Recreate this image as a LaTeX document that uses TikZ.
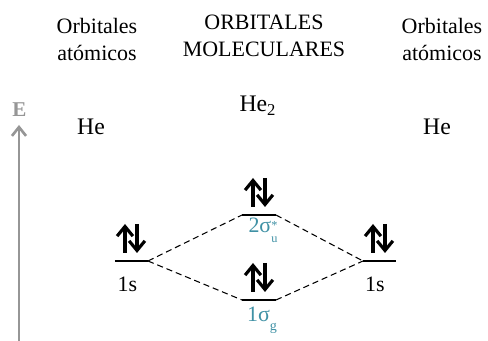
\documentclass[tikz,border=0pt]{standalone}
\usepackage{fontspec}
\setmainfont{Liberation Serif}
\usetikzlibrary{arrows.meta}
\definecolor{orbteal}{RGB}{64,145,165}
\definecolor{axisgray}{RGB}{150,150,150}

\begin{document}
\begin{tikzpicture}[x=0.02cm, y=-0.02cm,
    level/.style={line width=1.7pt},
    spin/.style={line width=1.8pt, -{Straight Barb[length=5.5pt,width=9pt]}},
    link/.style={line width=0.6pt, dash pattern=on 3.5pt off 2.2pt},
    txt/.style={font=\fontsize{12.5}{15.3}\selectfont, inner sep=0pt},
    orb/.style={txt, text=orbteal, anchor=base}]
    \useasboundingbox (0,0) rectangle (488,341);

    % Titulos
    \node[txt, align=center, anchor=north] (tl) at (97,18) {Orbitales\\atómicos};
    \node[txt, align=center, anchor=north] (tm) at (264,14.5) {ORBITALES\\MOLECULARES};
    \node[txt, align=center, anchor=north] (tr) at (442,18) {Orbitales\\atómicos};

    % Eje de energia
    \node[font=\fontsize{12}{14}\selectfont\bfseries, text=axisgray, inner sep=0pt, anchor=base] (E) at (19.5,117) {E};
    \coordinate (Ebot) at (19,341);
    \coordinate (Etop) at (19,125);
    \draw[axisgray, line width=1.5pt, -{Straight Barb[length=5pt,width=8pt]}] (Ebot) -- (Etop);

    % Atomos
    \node[txt, font=\fontsize{13.5}{16}\selectfont, anchor=base] (HeL) at (91,135) {He};
    \node[txt, font=\fontsize{13.5}{16}\selectfont, anchor=base] (He2) at (258,112) {He\textsubscript{2}};
    \node[txt, font=\fontsize{13.5}{16}\selectfont, anchor=base] (HeR) at (437,135) {He};

    % Niveles
    \coordinate (aLa) at (115,261); \coordinate (aLb) at (148,261);
    \coordinate (sSa) at (242,215); \coordinate (sSb) at (276,215);
    \coordinate (sGa) at (242,300); \coordinate (sGb) at (276,300);
    \coordinate (aRa) at (363,261); \coordinate (aRb) at (396,261);
    \draw[level] (aLa) -- (aLb);
    \draw[level] (sSa) -- (sSb);
    \draw[level] (sGa) -- (sGb);
    \draw[level] (aRa) -- (aRb);

    % Electrones
    \foreach \x/\y in {131/261, 259/215, 259/300, 379/261} {
        \draw[spin] (\x-6,\y-8) -- (\x-6,\y-37);
        \draw[spin] (\x+6,\y-37) -- (\x+6,\y-8);
    }

    % Correlaciones
    \draw[link] (aLb) -- (sSa);
    \draw[link] (aLb) -- (sGa);
    \draw[link] (sSb) -- (aRa);
    \draw[link] (sGb) -- (aRa);

    % Etiquetas
    \node[txt, anchor=base] (sL) at (127.5,292) {1s};
    \node[txt, anchor=base] (sR) at (375,292) {1s};
    \node[orb] (sS) at (263,233) {2σ\makebox[0pt][l]{\raisebox{0.15em}{\scriptsize *}}\raisebox{-0.45em}{\scriptsize u}};
    \node[orb] (sG) at (262,322) {1σ\raisebox{-0.4em}{\footnotesize g}};
\end{tikzpicture}
\end{document}
